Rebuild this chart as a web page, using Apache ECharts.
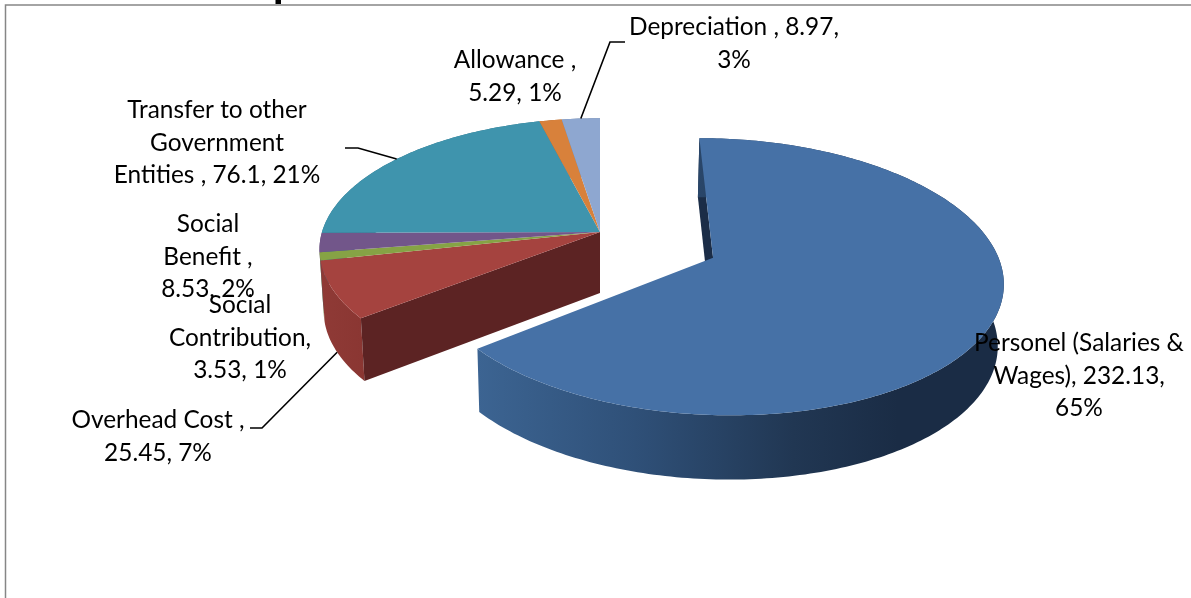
<!DOCTYPE html>
<html><head><meta charset="utf-8">
<style>html,body{margin:0;padding:0;background:#fff}#c{width:1191px;height:598px}</style>
<script src="https://cdn.jsdelivr.net/npm/echarts@6/dist/echarts.min.js"></script>
</head><body><div id="c"></div>
<script>
// --- data ---
const categories = ['Personel (Salaries & Wages)','Overhead Cost','Social Contribution','Social Benefit','Transfer to other Government Entities','Allowance','Depreciation'];
const values = [232.13,25.45,3.53,8.53,76.1,5.29,8.97];
const percents = ['65%','7%','1%','2%','21%','1%','3%'];
const labelLines = [
 ['Personel (Salaries &','Wages), 232.13,','65%'],
 ['Overhead Cost ,','25.45, 7%'],
 ['Social','Contribution,','3.53, 1%'],
 ['Social','Benefit ,','8.53, 2%'],
 ['Transfer to other','Government','Entities , 76.1, 21%'],
 ['Allowance ,','5.29, 1%'],
 ['Depreciation , 8.97,','3%']
];
// --- styling / layout ---
const topColors = ['#4671A6','#A5433F','#86A345','#72568A','#3F94AD','#D8813B','#8EA7D0'];
const wallColors = ['#1B2D47','#8C3834','#6A8237','#5A4470','#307388','#A9642C','#6F83A3'];
const labelPos = [[1079,343.5],[158,420.5],[240,305.5],[208,224.5],[217,110.5],[515,60.5],[734,27.5]];
const lineGap = 32.5;
const leaders = {1:{elbow:[[262,428],[250,428]],depth:true}, 4:{elbow:[[358,148],[345,148]]}, 6:{elbow:[[610,42],[625,42]]}};
const view = {cx:600, cy:232, rx:278, ry:129, p:0.134, depth:61, depthPow:0.3, shrink:0.985, explode:0.441};
const total = values.reduce((a,b)=>a+b,0);
let acc = 0;
const spans = values.map(v=>{const s=acc/total*Math.PI*2; acc+=v; return [s,acc/total*Math.PI*2];});

function proj(U,V,bottom){
  const w = 1/(1-view.p*V);
  let X = view.rx*U*w, Y = view.ry*V*w;
  if(bottom){ X*=view.shrink; Y+=view.depth*Math.pow(w,view.depthPow); }
  return [view.cx+X, view.cy+Y];
}
function offsetOf(i){
  if(i!==0) return [0,0];
  const m=(spans[0][0]+spans[0][1])/2;
  return [Math.sin(m)*view.explode, -Math.cos(m)*view.explode];
}
function rim(i,t,bottom){const o=offsetOf(i);return proj(o[0]+Math.sin(t),o[1]-Math.cos(t),bottom);}
function apex(i,bottom){const o=offsetOf(i);return proj(o[0],o[1],bottom);}
function arc(i,a,b,bottom){
  const n=Math.max(2,Math.ceil(Math.abs(b-a)/(Math.PI/180))),r=[];
  for(let k=0;k<=n;k++) r.push(rim(i,a+(b-a)*k/n,bottom));
  return r;
}
const blueWall = {type:'linear',x:478,y:0,x2:1003,y2:0,global:true,colorStops:[
  {offset:0,color:'#3C6492'},{offset:.3,color:'#2F5078'},{offset:.6,color:'#213753'},{offset:.8,color:'#1A2C45'},{offset:1,color:'#1A2C45'}]};
const redWall = {type:'linear',x:322,y:0,x2:366,y2:0,global:true,colorStops:[
  {offset:0,color:'#8F3A36'},{offset:1,color:'#8A3632'}]};

function renderItem(params,api){
  const i=params.dataIndex, [a,b]=spans[i], kids=[];
  const poly=(points,fill,z)=>kids.push({type:'polygon',z2:z,silent:true,shape:{points},style:{fill,stroke:null}});
  const base=(i===0)?100:0;
  const wallFill = i===0?blueWall:(i===1?redWall:wallColors[i]);
  const wallZ = base+ (i===1?12:(i===0?10:11-(i/10)));
  poly(arc(i,a,b,false).concat(arc(i,b,a,true)),wallFill,wallZ);
  if(i===0){
    poly([apex(0),rim(0,0),rim(0,0,true),apex(0,true)],'#1B2D47',base+5);
  }
  if(i===1){
    poly([apex(1),rim(1,a),rim(1,a,true),apex(1,true)],'#5C2323',13);
  }
  poly([apex(i)].concat(arc(i,a,b,false)),topColors[i],base+20);
  if(leaders[i]){
    const m=(a+b)/2, s=rim(i,m,!!leaders[i].depth);
    kids.push({type:'polyline',z2:300,silent:true,shape:{points:[s].concat(leaders[i].elbow)},style:{fill:null,stroke:'#000',lineWidth:1.6}});
  }
  labelLines[i].forEach((t,k)=>kids.push({type:'text',z2:400,silent:true,style:{
    x:labelPos[i][0],y:labelPos[i][1]+k*lineGap,text:t,fill:'#000',font:'24.4px Lato',align:'center',verticalAlign:'middle'}}));
  return {type:'group',children:kids};
}

const chart=echarts.init(document.getElementById('c'),null,{renderer:'canvas'});
chart.setOption({
  animation:false,
  backgroundColor:'#fff',
  graphic:{elements:[
    {type:'polyline',z:-1,silent:true,shape:{points:[[1191,5],[5.5,5],[5.5,598]]},style:{fill:null,stroke:'#868686',lineWidth:1.5}},
    {type:'rect',z:-1,silent:true,shape:{x:275.5,y:0,width:5.5,height:4},style:{fill:'#000'}}
  ]},
  series:[{type:'custom',coordinateSystem:'none',clip:false,renderItem,
    data:values.map((v,i)=>({name:categories[i],value:v,percent:percents[i]}))}]
});
</script></body></html>
